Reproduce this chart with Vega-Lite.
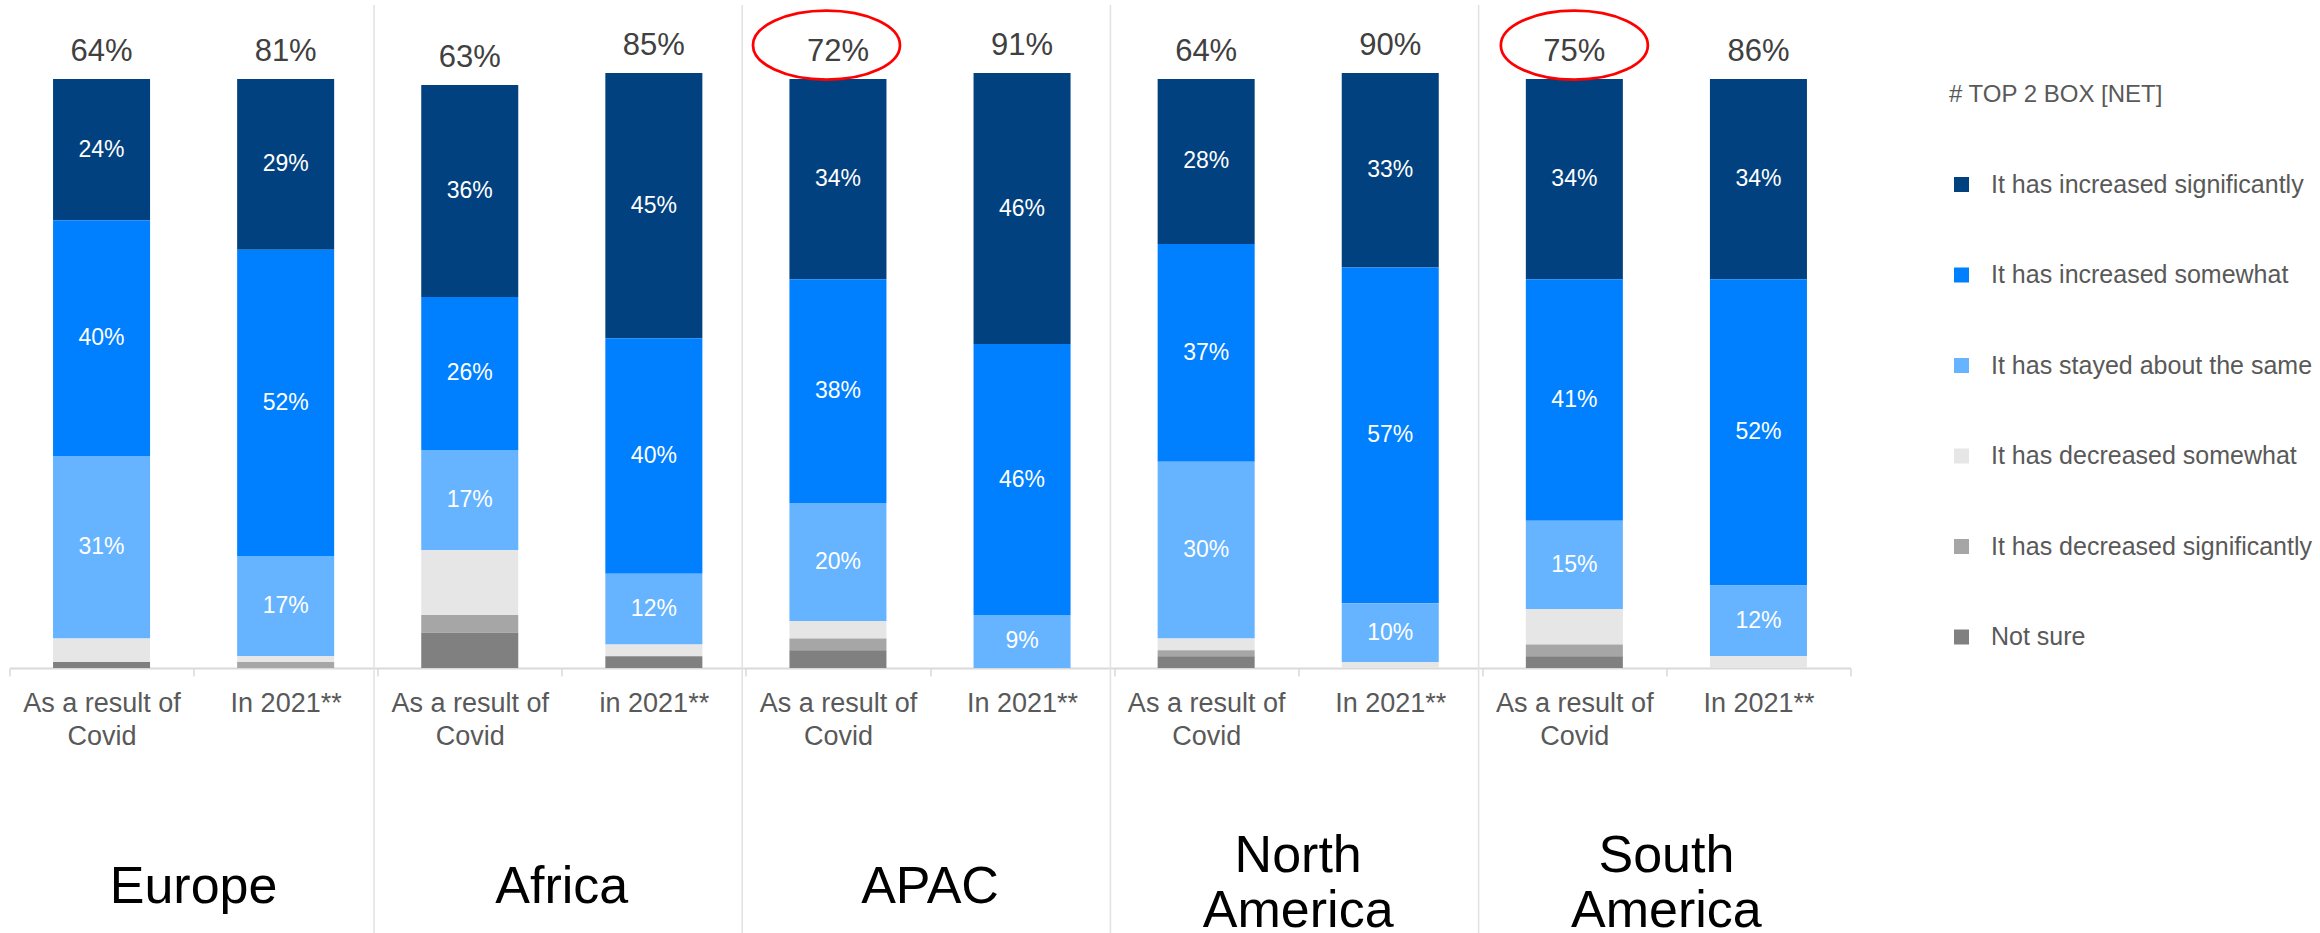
{
  "$schema": "https://vega.github.io/schema/vega-lite/v6.json",
  "width": 1841,
  "height": 668,
  "autosize": {"type": "none"},
  "padding": {"left": 9.5, "top": 0, "right": 469.5, "bottom": 265},
  "background": "white",
  "config": {"view": {"stroke": null}, "font": "Liberation Sans"},
  "datasets": {
    "nets": [
      {"key": "Europe|As a result of|Covid", "net": 0.64},
      {"key": "Europe|In 2021**", "net": 0.81},
      {"key": "Africa|As a result of|Covid", "net": 0.63},
      {"key": "Africa|in 2021**", "net": 0.85},
      {"key": "APAC|As a result of|Covid", "net": 0.72},
      {"key": "APAC|In 2021**", "net": 0.91},
      {"key": "North America|As a result of|Covid", "net": 0.64},
      {"key": "North America|In 2021**", "net": 0.90},
      {"key": "South America|As a result of|Covid", "net": 0.75},
      {"key": "South America|In 2021**", "net": 0.86}
    ]
  },
  "data": {"values": [
    {"region": "Europe", "period": "covid", "key": "Europe|As a result of|Covid", "cat": "It has increased significantly", "rank": 6, "value": 0.24},
    {"region": "Europe", "period": "covid", "key": "Europe|As a result of|Covid", "cat": "It has increased somewhat", "rank": 5, "value": 0.40},
    {"region": "Europe", "period": "covid", "key": "Europe|As a result of|Covid", "cat": "It has stayed about the same", "rank": 4, "value": 0.31},
    {"region": "Europe", "period": "covid", "key": "Europe|As a result of|Covid", "cat": "It has decreased somewhat", "rank": 3, "value": 0.04},
    {"region": "Europe", "period": "covid", "key": "Europe|As a result of|Covid", "cat": "Not sure", "rank": 1, "value": 0.01},
    {"region": "Europe", "period": "2021", "key": "Europe|In 2021**", "cat": "It has increased significantly", "rank": 6, "value": 0.29},
    {"region": "Europe", "period": "2021", "key": "Europe|In 2021**", "cat": "It has increased somewhat", "rank": 5, "value": 0.52},
    {"region": "Europe", "period": "2021", "key": "Europe|In 2021**", "cat": "It has stayed about the same", "rank": 4, "value": 0.17},
    {"region": "Europe", "period": "2021", "key": "Europe|In 2021**", "cat": "It has decreased somewhat", "rank": 3, "value": 0.01},
    {"region": "Europe", "period": "2021", "key": "Europe|In 2021**", "cat": "It has decreased significantly", "rank": 2, "value": 0.01},
    {"region": "Africa", "period": "covid", "key": "Africa|As a result of|Covid", "cat": "It has increased significantly", "rank": 6, "value": 0.36},
    {"region": "Africa", "period": "covid", "key": "Africa|As a result of|Covid", "cat": "It has increased somewhat", "rank": 5, "value": 0.26},
    {"region": "Africa", "period": "covid", "key": "Africa|As a result of|Covid", "cat": "It has stayed about the same", "rank": 4, "value": 0.17},
    {"region": "Africa", "period": "covid", "key": "Africa|As a result of|Covid", "cat": "It has decreased somewhat", "rank": 3, "value": 0.11},
    {"region": "Africa", "period": "covid", "key": "Africa|As a result of|Covid", "cat": "It has decreased significantly", "rank": 2, "value": 0.03},
    {"region": "Africa", "period": "covid", "key": "Africa|As a result of|Covid", "cat": "Not sure", "rank": 1, "value": 0.06},
    {"region": "Africa", "period": "2021", "key": "Africa|in 2021**", "cat": "It has increased significantly", "rank": 6, "value": 0.45},
    {"region": "Africa", "period": "2021", "key": "Africa|in 2021**", "cat": "It has increased somewhat", "rank": 5, "value": 0.40},
    {"region": "Africa", "period": "2021", "key": "Africa|in 2021**", "cat": "It has stayed about the same", "rank": 4, "value": 0.12},
    {"region": "Africa", "period": "2021", "key": "Africa|in 2021**", "cat": "It has decreased somewhat", "rank": 3, "value": 0.02},
    {"region": "Africa", "period": "2021", "key": "Africa|in 2021**", "cat": "Not sure", "rank": 1, "value": 0.02},
    {"region": "APAC", "period": "covid", "key": "APAC|As a result of|Covid", "cat": "It has increased significantly", "rank": 6, "value": 0.34},
    {"region": "APAC", "period": "covid", "key": "APAC|As a result of|Covid", "cat": "It has increased somewhat", "rank": 5, "value": 0.38},
    {"region": "APAC", "period": "covid", "key": "APAC|As a result of|Covid", "cat": "It has stayed about the same", "rank": 4, "value": 0.20},
    {"region": "APAC", "period": "covid", "key": "APAC|As a result of|Covid", "cat": "It has decreased somewhat", "rank": 3, "value": 0.03},
    {"region": "APAC", "period": "covid", "key": "APAC|As a result of|Covid", "cat": "It has decreased significantly", "rank": 2, "value": 0.02},
    {"region": "APAC", "period": "covid", "key": "APAC|As a result of|Covid", "cat": "Not sure", "rank": 1, "value": 0.03},
    {"region": "APAC", "period": "2021", "key": "APAC|In 2021**", "cat": "It has increased significantly", "rank": 6, "value": 0.46},
    {"region": "APAC", "period": "2021", "key": "APAC|In 2021**", "cat": "It has increased somewhat", "rank": 5, "value": 0.46},
    {"region": "APAC", "period": "2021", "key": "APAC|In 2021**", "cat": "It has stayed about the same", "rank": 4, "value": 0.09},
    {"region": "North America", "period": "covid", "key": "North America|As a result of|Covid", "cat": "It has increased significantly", "rank": 6, "value": 0.28},
    {"region": "North America", "period": "covid", "key": "North America|As a result of|Covid", "cat": "It has increased somewhat", "rank": 5, "value": 0.37},
    {"region": "North America", "period": "covid", "key": "North America|As a result of|Covid", "cat": "It has stayed about the same", "rank": 4, "value": 0.30},
    {"region": "North America", "period": "covid", "key": "North America|As a result of|Covid", "cat": "It has decreased somewhat", "rank": 3, "value": 0.02},
    {"region": "North America", "period": "covid", "key": "North America|As a result of|Covid", "cat": "It has decreased significantly", "rank": 2, "value": 0.01},
    {"region": "North America", "period": "covid", "key": "North America|As a result of|Covid", "cat": "Not sure", "rank": 1, "value": 0.02},
    {"region": "North America", "period": "2021", "key": "North America|In 2021**", "cat": "It has increased significantly", "rank": 6, "value": 0.33},
    {"region": "North America", "period": "2021", "key": "North America|In 2021**", "cat": "It has increased somewhat", "rank": 5, "value": 0.57},
    {"region": "North America", "period": "2021", "key": "North America|In 2021**", "cat": "It has stayed about the same", "rank": 4, "value": 0.10},
    {"region": "North America", "period": "2021", "key": "North America|In 2021**", "cat": "It has decreased somewhat", "rank": 3, "value": 0.01},
    {"region": "South America", "period": "covid", "key": "South America|As a result of|Covid", "cat": "It has increased significantly", "rank": 6, "value": 0.34},
    {"region": "South America", "period": "covid", "key": "South America|As a result of|Covid", "cat": "It has increased somewhat", "rank": 5, "value": 0.41},
    {"region": "South America", "period": "covid", "key": "South America|As a result of|Covid", "cat": "It has stayed about the same", "rank": 4, "value": 0.15},
    {"region": "South America", "period": "covid", "key": "South America|As a result of|Covid", "cat": "It has decreased somewhat", "rank": 3, "value": 0.06},
    {"region": "South America", "period": "covid", "key": "South America|As a result of|Covid", "cat": "It has decreased significantly", "rank": 2, "value": 0.02},
    {"region": "South America", "period": "covid", "key": "South America|As a result of|Covid", "cat": "Not sure", "rank": 1, "value": 0.02},
    {"region": "South America", "period": "2021", "key": "South America|In 2021**", "cat": "It has increased significantly", "rank": 6, "value": 0.34},
    {"region": "South America", "period": "2021", "key": "South America|In 2021**", "cat": "It has increased somewhat", "rank": 5, "value": 0.52},
    {"region": "South America", "period": "2021", "key": "South America|In 2021**", "cat": "It has stayed about the same", "rank": 4, "value": 0.12},
    {"region": "South America", "period": "2021", "key": "South America|In 2021**", "cat": "It has decreased somewhat", "rank": 3, "value": 0.02}
  ]},
  "transform": [
    {"stack": "value", "groupby": ["key"], "sort": [{"field": "rank", "order": "ascending"}], "as": ["y0", "y1"]}
  ],
  "encoding": {
    "x": {
      "field": "key", "type": "nominal",
      "scale": {"domain": ["Europe|As a result of|Covid", "Europe|In 2021**", "Africa|As a result of|Covid", "Africa|in 2021**", "APAC|As a result of|Covid", "APAC|In 2021**", "North America|As a result of|Covid", "North America|In 2021**", "South America|As a result of|Covid", "South America|In 2021**"], "paddingInner": 0, "paddingOuter": 0},
      "axis": {
        "title": null, "grid": false,
        "domainColor": "#D9D9D9", "domainWidth": 2,
        "tickColor": "#D9D9D9", "tickWidth": 1.5, "tickSize": 8, "tickBand": "extent",
        "labelExpr": "slice(split(datum.value, '|'), 1)",
        "labelFont": "Liberation Sans", "labelFontSize": 27, "labelColor": "#595959",
        "labelAngle": 0, "labelPadding": 14, "labelLineHeight": 33,
        "labelOverlap": false, "labelLimit": 400, "labelBaseline": "top"
      }
    }
  },
  "layer": [
    {
      "transform": [{"filter": "datum.period == 'covid' && datum.rank == 6 && datum.region != 'Europe'"}],
      "mark": {"type": "rule", "color": "#E2E2E2", "strokeWidth": 1.5},
      "encoding": {
        "x": {"field": "key", "type": "nominal", "bandPosition": -0.02,
              "scale": {"domain": ["Europe|As a result of|Covid", "Europe|In 2021**", "Africa|As a result of|Covid", "Africa|in 2021**", "APAC|As a result of|Covid", "APAC|In 2021**", "North America|As a result of|Covid", "North America|In 2021**", "South America|As a result of|Covid", "South America|In 2021**"], "paddingInner": 0, "paddingOuter": 0}},
        "y": {"datum": 1.1256, "type": "quantitative", "scale": {"domain": [0, 1.1341], "nice": false, "zero": true}, "axis": null},
        "y2": {"datum": -0.4505}
      }
    },
    {
      "mark": {"type": "bar", "width": {"band": 0.527}},
      "encoding": {
        "y": {"field": "y0", "type": "quantitative", "scale": {"domain": [0, 1.1341], "nice": false, "zero": true}, "axis": null},
        "y2": {"field": "y1"},
        "color": {
          "field": "cat", "type": "nominal",
          "scale": {
            "domain": ["It has increased significantly", "It has increased somewhat", "It has stayed about the same", "It has decreased somewhat", "It has decreased significantly", "Not sure"],
            "range": ["#02417F", "#0080FF", "#66B3FF", "#E6E6E6", "#A6A6A6", "#808080"]
          },
          "legend": {
            "title": "# TOP 2 BOX [NET]", "orient": "none", "legendX": 1939.5, "legendY": 83,
            "direction": "vertical", "symbolType": "square", "symbolSize": 225, "symbolStrokeWidth": 0,
            "labelFont": "Liberation Sans", "labelFontSize": 25, "labelColor": "#595959", "labelOffset": 17, "labelLimit": 500,
            "rowPadding": 64.5, "titleFont": "Liberation Sans", "titleFontSize": 24, "titleFontWeight": "normal",
            "titleColor": "#595959", "titlePadding": 65, "titleLimit": 500
          }
        }
      }
    },
    {
      "transform": [{"filter": "datum.rank >= 4"}],
      "mark": {"type": "text", "baseline": "middle", "align": "center", "font": "Liberation Sans", "fontSize": 23, "color": "white",
               "dy": {"expr": "(scale('y', datum.value) - scale('y', 0)) / 2"}},
      "encoding": {
        "y": {"field": "y0", "type": "quantitative", "scale": {"domain": [0, 1.1341], "nice": false, "zero": true}, "axis": null},
        "text": {"field": "value", "type": "quantitative", "format": ".0%"}
      }
    },
    {
      "transform": [
        {"filter": "datum.rank == 6"},
        {"lookup": "key", "from": {"data": {"name": "nets"}, "key": "key", "fields": ["net"]}}
      ],
      "mark": {"type": "text", "baseline": "alphabetic", "align": "center", "dy": -18, "font": "Liberation Sans", "fontSize": 31, "color": "#404040"},
      "encoding": {
        "y": {"field": "y1", "type": "quantitative", "scale": {"domain": [0, 1.1341], "nice": false, "zero": true}, "axis": null},
        "text": {"field": "net", "type": "quantitative", "format": ".0%"}
      }
    },
    {
      "transform": [{"filter": "datum.rank == 6 && datum.key == 'APAC|As a result of|Covid'"}],
      "mark": {"type": "point", "filled": false, "stroke": "#FF0000", "strokeWidth": 2.75, "opacity": 1, "size": 21609,
               "shape": "M 0.844 -0.46 C 0.844 -0.2005 0.396 0.01 -0.156 0.01 C -0.708 0.01 -1.156 -0.2005 -1.156 -0.46 C -1.156 -0.7195 -0.708 -0.93 -0.156 -0.93 C 0.396 -0.93 0.844 -0.7195 0.844 -0.46 Z"},
      "encoding": {
        "y": {"field": "y1", "type": "quantitative", "scale": {"domain": [0, 1.1341], "nice": false, "zero": true}, "axis": null}
      }
    },
    {
      "transform": [{"filter": "datum.rank == 6 && datum.key == 'South America|As a result of|Covid'"}],
      "mark": {"type": "point", "filled": false, "stroke": "#FF0000", "strokeWidth": 2.75, "opacity": 1, "size": 21609,
               "shape": "M 1 -0.46 C 1 -0.2005 0.552 0.01 0 0.01 C -0.552 0.01 -1 -0.2005 -1 -0.46 C -1 -0.7195 -0.552 -0.93 0 -0.93 C 0.552 -0.93 1 -0.7195 1 -0.46 Z"},
      "encoding": {
        "y": {"field": "y1", "type": "quantitative", "scale": {"domain": [0, 1.1341], "nice": false, "zero": true}, "axis": null}
      }
    },
    {
      "transform": [{"filter": "datum.period == '2021' && datum.rank == 6"}],
      "mark": {"type": "text", "baseline": "middle", "align": "center", "font": "Liberation Sans", "fontSize": 52, "color": "#000000", "lineBreak": " ", "lineHeight": 55,
               "dy": {"expr": "indexof(datum.region, ' ') >= 0 ? -31 : 0"}},
      "encoding": {
        "x": {"field": "key", "type": "nominal", "bandPosition": 0,
              "scale": {"domain": ["Europe|As a result of|Covid", "Europe|In 2021**", "Africa|As a result of|Covid", "Africa|in 2021**", "APAC|As a result of|Covid", "APAC|In 2021**", "North America|As a result of|Covid", "North America|In 2021**", "South America|As a result of|Covid", "South America|In 2021**"], "paddingInner": 0, "paddingOuter": 0}},
        "y": {"datum": -0.371, "type": "quantitative", "scale": {"domain": [0, 1.1341], "nice": false, "zero": true}, "axis": null},
        "text": {"field": "region"}
      }
    }
  ]
}
